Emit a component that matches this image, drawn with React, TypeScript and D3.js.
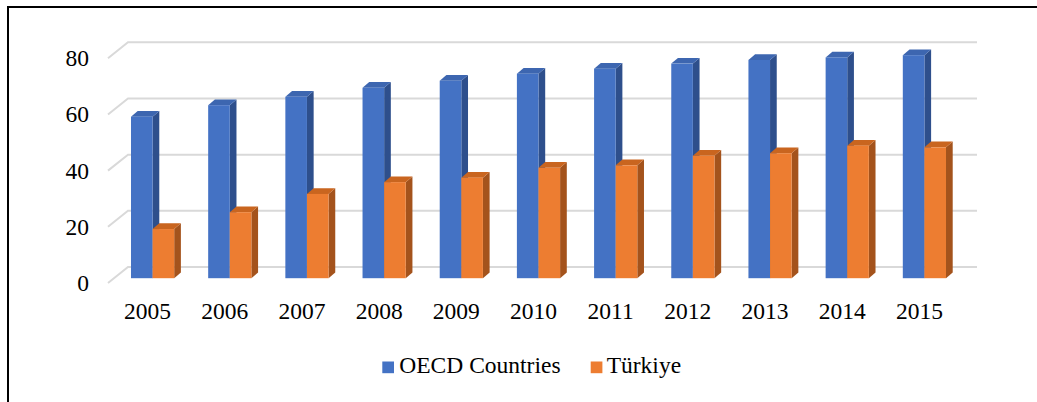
import React from "react";
import * as d3 from "d3";

const years = ["2005","2006","2007","2008","2009","2010","2011","2012","2013","2014","2015"];
const oecd = [57.5, 61.6, 64.6, 67.8, 70.3, 72.8, 74.6, 76.4, 77.7, 78.6, 79.4];
const turkiye = [17.5, 23.5, 30.0, 34.2, 35.8, 39.3, 40.2, 43.6, 44.5, 47.2, 46.6];
const yTicks = [0, 20, 40, 60, 80];
const seriesNames = ["OECD Countries", "Türkiye"];

const W = 1037, H = 402;
const FONT = "'Liberation Serif', 'Times New Roman', serif";

export default function App() {
  const frontX0 = 108, frontX1 = 957;
  const frontBase = 283;
  const depthDx = 20, depthDy = -16;
  const x = d3.scaleBand<string>().domain(years).range([frontX0, frontX1]).padding(0);
  const h = d3.scaleLinear().domain([0, 80]).range([0, 224.7]);

  const barFrac = 0.3;
  const barBase = frontBase + depthDy * barFrac;
  const barOff = depthDx * barFrac;
  const bw = 21.6;
  const bdx = 6.7, bdy = -5.7;

  const series = [
    { vals: oecd, front: "#4472C4", side: "#2E4F8C", top: "#3D66B0" },
    { vals: turkiye, front: "#ED7D31", side: "#A4531C", top: "#C9651F" },
  ];

  const bars: JSX.Element[] = [];
  years.forEach((yr, i) => {
    const cx = (x(yr) as number) + x.bandwidth() / 2 + barOff;
    series.forEach((s, si) => {
      const x0 = cx - bw + si * bw;
      const x1 = x0 + bw;
      const yt = barBase - h(s.vals[i]);
      const yb = barBase;
      bars.push(
        <g key={yr + si}>
          <polygon points={`${x1},${yb} ${x1 + bdx},${yb + bdy} ${x1 + bdx},${yt + bdy} ${x1},${yt}`} fill={s.side} />
          <polygon points={`${x0},${yt} ${x0 + bdx},${yt + bdy} ${x1 + bdx},${yt + bdy} ${x1},${yt}`} fill={s.top} />
          <rect x={x0} y={yt} width={bw} height={yb - yt} fill={s.front} />
        </g>
      );
    });
  });

  return (
    <svg width={W} height={H} style={{ position: "fixed", left: 0, top: 0, background: "#fff" }}>
      <rect x={0} y={0} width={W} height={H} fill="#fff" />
      <path d={`M8,${H} V7 H${W}`} fill="none" stroke="#000" strokeWidth={2} />
      {yTicks.map((t) => {
        const yf = frontBase - h(t);
        return (
          <g key={t}>
            <path
              d={`M${frontX0},${yf} L${frontX0 + depthDx},${yf + depthDy} H${frontX1 + depthDx}`}
              fill="none" stroke="#D9D9D9" strokeWidth={2}
            />
            <text x={89} y={yf + 8} textAnchor="end" fontFamily={FONT} fontSize={23.5} fill="#000">{t}</text>
          </g>
        );
      })}
      {bars}
      {years.map((yr) => (
        <text key={yr} x={(x(yr) as number) + x.bandwidth() / 2 + 1} y={318.5} textAnchor="middle"
          fontFamily={FONT} fontSize={23.5} fill="#000">{yr}</text>
      ))}
      <rect x={382.3} y={361.5} width={11.7} height={11.7} fill="#4472C4" />
      <text x={399.3} y={373.3} fontFamily={FONT} fontSize={23.5} fill="#000">{seriesNames[0]}</text>
      <rect x={590.7} y={361.5} width={11.7} height={11.7} fill="#ED7D31" />
      <text x={606.7} y={373.3} fontFamily={FONT} fontSize={23.5} fill="#000">{seriesNames[1]}</text>
    </svg>
  );
}
